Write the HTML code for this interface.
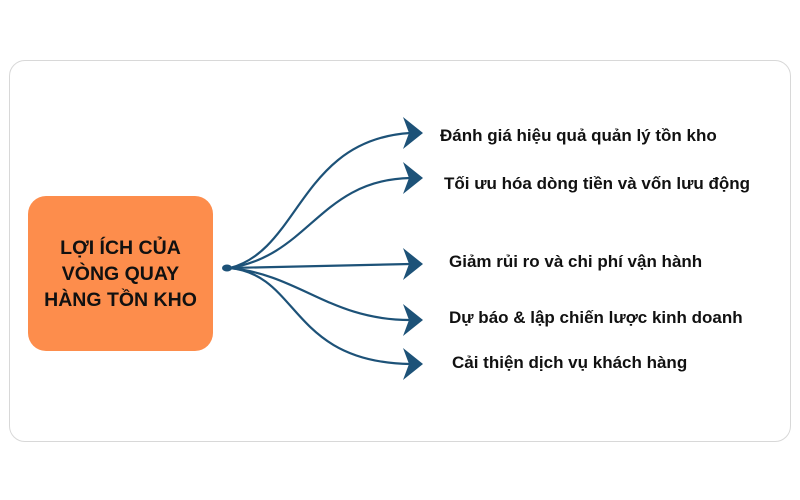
<!DOCTYPE html>
<html><head><meta charset="utf-8"><style>
body{margin:0;width:800px;height:500px;background:#fff;position:relative;font-family:"Liberation Sans",Arial,sans-serif;overflow:hidden}
.outer{position:absolute;left:9px;top:60px;width:780px;height:380px;border:1.5px solid #d8d8d8;border-radius:16px}
.box{position:absolute;left:28px;top:196px;width:185px;height:155px;background:#fd8d4c;border-radius:18px;display:flex;align-items:center;justify-content:center;text-align:center;font-weight:bold;font-size:19.5px;line-height:26px;color:#111}
.l{position:absolute;font-weight:bold;font-size:17px;color:#111;white-space:nowrap}
</style></head><body>
<div class="outer"></div>
<div class="box">LỢI ÍCH CỦA<br>VÒNG QUAY<br>HÀNG TỒN KHO</div>
<svg width="800" height="500" style="position:absolute;left:0;top:0">
<g fill="none" stroke="#1d5278" stroke-width="2.2">
<path d="M230 268 C300 250 300 140 410 133"/>
<path d="M230 268 C310 255 320 180 410 178"/>
<path d="M230 268 L410 264"/>
<path d="M230 268 C300 275 330 320 410 320"/>
<path d="M230 268 C300 275 290 362 410 364"/>
</g>
<g fill="#1d5278">
<path d="M423 133 L403 117 L409 133 L403 149 Z"/>
<path d="M423 178 L403 162 L409 178 L403 194 Z"/>
<path d="M423 264 L403 248 L409 264 L403 280 Z"/>
<path d="M423 320 L403 304 L409 320 L403 336 Z"/>
<path d="M423 364 L403 348 L409 364 L403 380 Z"/>
<ellipse cx="227" cy="268" rx="5" ry="3.5"/>
</g>
</svg>
<div class="l" style="left:440px;top:126px">Đánh giá hiệu quả quản lý tồn kho</div>
<div class="l" style="left:444px;top:174px">Tối ưu hóa dòng tiền và vốn lưu động</div>
<div class="l" style="left:449px;top:252px">Giảm rủi ro và chi phí vận hành</div>
<div class="l" style="left:449px;top:308px">Dự báo &amp; lập chiến lược kinh doanh</div>
<div class="l" style="left:452px;top:353px">Cải thiện dịch vụ khách hàng</div>
</body></html>
